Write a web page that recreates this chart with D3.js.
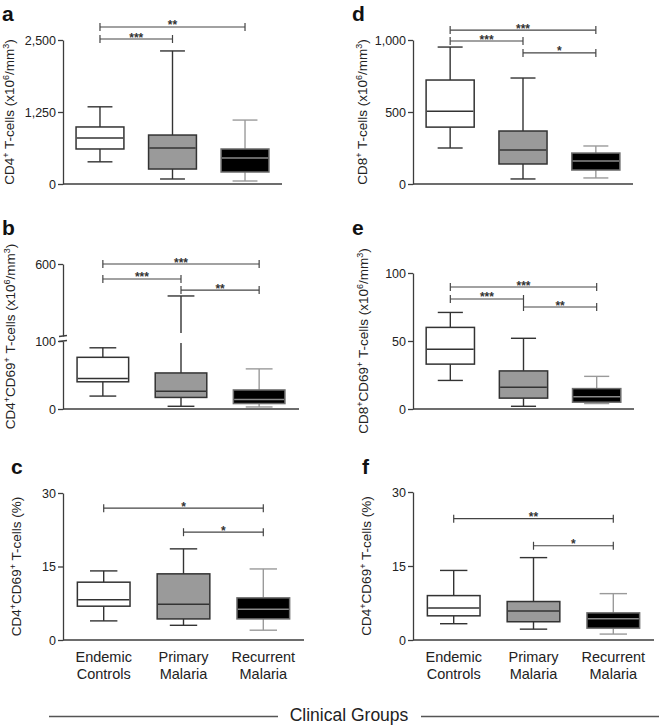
<!DOCTYPE html>
<html><head><meta charset="utf-8">
<script src="https://cdn.jsdelivr.net/npm/d3@7"></script>
<style>
body{margin:0;background:#fff}
svg{display:block;font-family:"Liberation Sans",Arial,Helvetica,sans-serif}
</style>
</head><body>
<svg id="chart" width="662" height="728"></svg>
<script>
// ---------- DATA ----------
const groups = ["Endemic Controls", "Primary Malaria", "Recurrent Malaria"];
const groupLines = [["Endemic", "Controls"], ["Primary", "Malaria"], ["Recurrent", "Malaria"]];
// each box: [min, q1, median, q3, max]
const statsA = [[385, 608, 800, 990, 1340], [87, 260, 625, 850, 2310], [52, 208, 450, 608, 1110]];
const statsB = [[19, 40, 45, 76, 90], [4, 17, 26, 53, 378], [3, 8, 14, 28, 59]];
const statsC = [[3.9, 6.9, 8.2, 11.8, 14.1], [3.0, 4.3, 7.3, 13.5, 18.6], [2.0, 4.3, 6.3, 8.6, 14.5]];
const statsD = [[250, 395, 505, 722, 951], [35, 139, 236, 368, 736], [42, 97, 160, 215, 264]];
const statsE = [[21, 33, 44, 60, 71], [2, 8, 16, 28, 52], [4, 5, 9, 15, 24]];
const statsF = [[3.3, 4.9, 6.5, 9.0, 14.1], [2.2, 3.7, 5.9, 7.8, 16.7], [1.2, 2.4, 4.3, 5.5, 9.4]];
// significance brackets: [fromGroup, toGroup, level (data units), label]
const sigA = [[0, 2, 2726, "**"], [0, 1, 2517, "***"]];
const sigB = [[0, 2, 600, "***"], [0, 1, 496, "***"], [1, 2, 419, "**"]];
const sigC = [[0, 2, 26.9, "*"], [1, 2, 22.0, "*"]];
const sigD = [[0, 2, 1069, "***"], [0, 1, 993, "***"], [1, 2, 910, "*"]];
const sigE = [[0, 2, 89.7, "***"], [0, 1, 80.9, "***"], [1, 2, 75, "**"]];
const sigF = [[0, 2, 24.6, "**"], [1, 2, 19.1, "*"]];
const ticksA = [0, 1250, 2500], tickLabelsA = ["0", "1,250", "2,500"];
const ticksB = [0, 100, 600], tickLabelsB = ["0", "100", "600"];
const ticksC = [0, 15, 30], tickLabelsC = ["0", "15", "30"];
const ticksD = [0, 500, 1000], tickLabelsD = ["0", "500", "1,000"];
const ticksE = [0, 50, 100], tickLabelsE = ["0", "50", "100"];
const ticksF = [0, 15, 30], tickLabelsF = ["0", "15", "30"];
// y titles: [text, isSuperscript]
const yTitleA = [["CD4", 0], ["+", 1], [" T-cells (x10", 0], ["6", 1], ["/mm", 0], ["3", 1], [")", 0]];
const yTitleB = [["CD4", 0], ["+", 1], ["CD69", 0], ["+", 1], [" T-cells (x10", 0], ["6", 1], ["/mm", 0], ["3", 1], [")", 0]];
const yTitleC = [["CD4", 0], ["+", 1], ["CD69", 0], ["+", 1], [" T-cells (%)", 0]];
const yTitleD = [["CD8", 0], ["+", 1], [" T-cells (x10", 0], ["6", 1], ["/mm", 0], ["3", 1], [")", 0]];
const yTitleE = [["CD8", 0], ["+", 1], ["CD69", 0], ["+", 1], [" T-cells (x10", 0], ["6", 1], ["/mm", 0], ["3", 1], [")", 0]];
const yTitleF = [["CD4", 0], ["+", 1], ["CD69", 0], ["+", 1], [" T-cells (%)", 0]];
const xTitle = "Clinical Groups";

// ---------- LAYOUT ----------
const panels = [
  {letter: "a", lx: 2, ly: 21, stats: statsA, sig: sigA, ticks: ticksA, tl: tickLabelsA, title: yTitleA, tx: 14, x0: 63, x1: 282, yb: 184, yt: 40, max: 2500},
  {letter: "b", lx: 2, ly: 235, stats: statsB, sig: sigB, ticks: ticksB, tl: tickLabelsB, title: yTitleB, tx: 15, x0: 63, x1: 299, yb: 409, yt: 264, max: 600, brk: {v: 100, yLow: 341, yHigh: 336}},
  {letter: "c", lx: 11, ly: 474, stats: statsC, sig: sigC, ticks: ticksC, tl: tickLabelsC, title: yTitleC, tx: 21, x0: 63, x1: 304, yb: 640, yt: 493, max: 30, xlabels: true},
  {letter: "d", lx: 352, ly: 21, stats: statsD, sig: sigD, ticks: ticksD, tl: tickLabelsD, title: yTitleD, tx: 367, x0: 413, x1: 633, yb: 184, yt: 40, max: 1000},
  {letter: "e", lx: 352, ly: 235, stats: statsE, sig: sigE, ticks: ticksE, tl: tickLabelsE, title: yTitleE, tx: 368, x0: 413, x1: 634, yb: 409, yt: 273, max: 100},
  {letter: "f", lx: 362, ly: 474, stats: statsF, sig: sigF, ticks: ticksF, tl: tickLabelsF, title: yTitleF, tx: 371, x0: 413, x1: 654, yb: 640, yt: 492, max: 30, xlabels: true}
];
const fills = ["#ffffff", "#9a9a9a", "#000000"];
const strokes = ["#333333", "#333333", "#6e6e6e"];
const medians = ["#333333", "#333333", "#8a8a8a"];
const whiskers = ["#333333", "#333333", "#9a9a9a"];
const lineCol = "#3c3c3c";

const svg = d3.select("#chart");

panels.forEach(p => {
  const g = svg.append("g");
  const x = d3.scaleBand().domain(groups).range([p.x0, p.x1]).paddingInner(0.34).paddingOuter(0.18);
  const bw = x.bandwidth();
  let y, segs;
  if (p.brk) {
    const low = d3.scaleLinear().domain([0, p.brk.v]).range([p.yb, p.brk.yLow]);
    const high = d3.scaleLinear().domain([p.brk.v, p.max]).range([p.brk.yHigh, p.yt]);
    y = v => v <= p.brk.v ? low(v) : high(v);
    segs = [{s: low, ticks: p.ticks.filter(t => t <= p.brk.v)}, {s: high, ticks: p.ticks.filter(t => t > p.brk.v)}];
  } else {
    const s = d3.scaleLinear().domain([0, p.max]).range([p.yb, p.yt]);
    y = s;
    segs = [{s: s, ticks: p.ticks}];
  }
  // y axis
  segs.forEach(sg => {
    const ax = g.append("g").attr("transform", `translate(${p.x0},0)`)
      .call(d3.axisLeft(sg.s).tickValues(sg.ticks).tickSize(5).tickSizeOuter(0)
        .tickFormat(t => p.tl[p.ticks.indexOf(t)]));
    ax.selectAll("path,line").attr("stroke", lineCol).attr("stroke-width", 1.3);
    ax.selectAll("text").attr("font-size", 12.5).attr("fill", "#222").attr("dx", "1").attr("font-family", null);
  });
  if (p.brk) {
    [p.brk.yHigh, p.brk.yLow].forEach(yy => {
      g.append("line").attr("x1", p.x0 - 4).attr("x2", p.x0 + 4).attr("y1", yy + 0.5).attr("y2", yy - 0.5)
        .attr("stroke", lineCol).attr("stroke-width", 1.3);
    });
  }
  // x axis line
  g.append("line").attr("x1", p.x0).attr("x2", p.x1).attr("y1", p.yb).attr("y2", p.yb)
    .attr("stroke", lineCol).attr("stroke-width", 1.4);
  // boxes
  p.stats.forEach((st, i) => {
    const [mn, q1, md, q3, mx] = st;
    const xl = x(groups[i]), cx = xl + bw / 2, cw = bw * 0.26;
    const wk = g.append("g").attr("stroke", whiskers[i]).attr("stroke-width", 1.4);
    if (p.brk && mx > p.brk.v) {
      wk.append("line").attr("x1", cx).attr("x2", cx).attr("y1", y(q3)).attr("y2", p.brk.yLow + 2);
      wk.append("line").attr("x1", cx).attr("x2", cx).attr("y1", p.brk.yHigh - 3).attr("y2", y(mx));
    } else {
      wk.append("line").attr("x1", cx).attr("x2", cx).attr("y1", y(q3)).attr("y2", y(mx));
    }
    wk.append("line").attr("x1", cx).attr("x2", cx).attr("y1", y(q1)).attr("y2", y(mn));
    wk.append("line").attr("x1", cx - cw).attr("x2", cx + cw).attr("y1", y(mx)).attr("y2", y(mx));
    wk.append("line").attr("x1", cx - cw).attr("x2", cx + cw).attr("y1", y(mn)).attr("y2", y(mn));
    g.append("rect").attr("x", xl).attr("y", y(q3)).attr("width", bw).attr("height", y(q1) - y(q3))
      .attr("fill", fills[i]).attr("stroke", strokes[i]).attr("stroke-width", 1.5);
    g.append("line").attr("x1", xl + 0.8).attr("x2", xl + bw - 0.8).attr("y1", y(md)).attr("y2", y(md))
      .attr("stroke", medians[i]).attr("stroke-width", 1.5);
  });
  // significance brackets
  p.sig.forEach(([a, b, lv, lab]) => {
    const xa = x(groups[a]) + bw / 2, xb = x(groups[b]) + bw / 2, yy = y(lv);
    const sg = g.append("g").attr("stroke", "#444").attr("stroke-width", 1.2);
    sg.append("line").attr("x1", xa).attr("x2", xb).attr("y1", yy).attr("y2", yy);
    sg.append("line").attr("x1", xa).attr("x2", xa).attr("y1", yy - 4).attr("y2", yy + 4);
    sg.append("line").attr("x1", xb).attr("x2", xb).attr("y1", yy - 4).attr("y2", yy + 4);
    g.append("text").attr("x", (xa + xb) / 2).attr("y", yy + 2.5).attr("text-anchor", "middle")
      .attr("font-size", 12).attr("font-weight", "bold").attr("fill", "#333").text(lab);
  });
  // panel letter
  g.append("text").attr("x", p.lx).attr("y", p.ly).attr("font-size", 21).attr("font-weight", "bold")
    .attr("fill", "#111").text(p.letter);
  // y title
  const midY = (p.yb + p.yt) / 2;
  const t = g.append("text").attr("transform", `translate(${p.tx},${midY}) rotate(-90)`)
    .attr("text-anchor", "middle").attr("font-size", 13.5).attr("fill", "#222");
  let prevSup = false;
  p.title.forEach(([txt, sup]) => {
    const ts = t.append("tspan").text(txt);
    if (sup) { ts.attr("font-size", 9); if (!prevSup) ts.attr("dy", -5.5); }
    else if (prevSup) ts.attr("dy", 5.5);
    prevSup = !!sup;
  });
  // x category labels
  if (p.xlabels) {
    groups.forEach((gr, i) => {
      const cx = x(gr) + bw / 2;
      const tx = g.append("text").attr("text-anchor", "middle").attr("font-size", 14.5).attr("fill", "#222");
      groupLines[i].forEach((ln, k) => tx.append("tspan").attr("x", cx).attr("y", 662 + k * 16.5).text(ln));
    });
  }
});

// shared x title
svg.append("text").attr("x", 349).attr("y", 721).attr("text-anchor", "middle").attr("font-size", 17.5)
  .attr("fill", "#222").text(xTitle);
svg.append("line").attr("x1", 49).attr("x2", 278).attr("y1", 716.5).attr("y2", 716.5).attr("stroke", "#555").attr("stroke-width", 1.3);
svg.append("line").attr("x1", 421).attr("x2", 659).attr("y1", 716.5).attr("y2", 716.5).attr("stroke", "#555").attr("stroke-width", 1.3);
</script>
</body></html>
